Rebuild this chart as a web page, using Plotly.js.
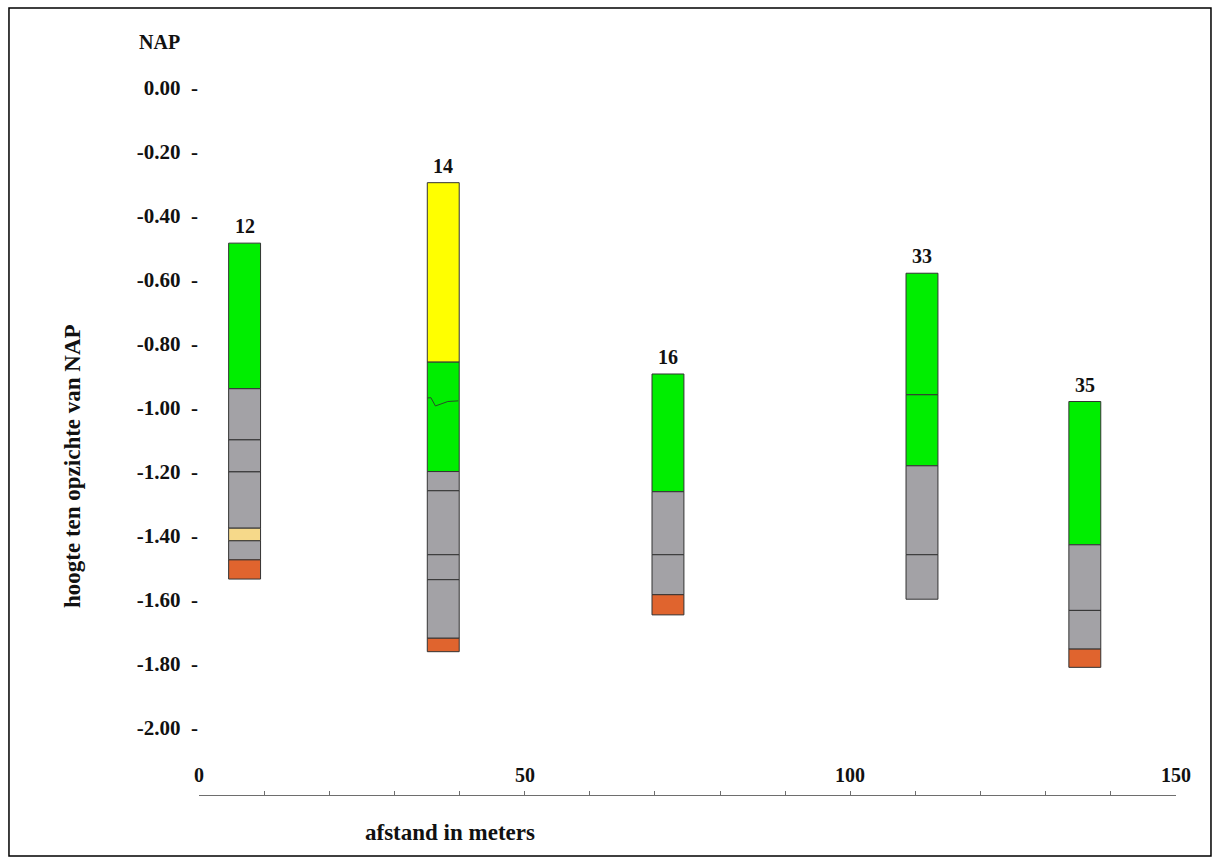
<!DOCTYPE html>
<html>
<head>
<meta charset="utf-8">
<script src="https://cdn.plot.ly/plotly-3.0.1.min.js"></script>
<style>
  html, body { margin: 0; padding: 0; background: #fff; }
  #chart { width: 1213px; height: 859px; }
</style>
</head>
<body>
<div id="chart"></div>
<script>
// ---- data ----
const colX = [7, 37.5, 72, 111, 136];               // afstand in meters
const colNames = ['12', '14', '16', '33', '35'];     // boring labels
// layer boundaries (hoogte t.o.v. NAP), top to bottom
const bounds12 = [-0.485, -0.94, -1.10, -1.20, -1.376, -1.415, -1.475, -1.535];
const bounds14 = [-0.296, -0.857, -1.199, -1.259, -1.459, -1.537, -1.72, -1.762];
const bounds16 = [-0.894, -1.262, -1.459, -1.584, -1.647];
const bounds33 = [-0.579, -0.959, -1.181, -1.459, -1.598];
const bounds35 = [-0.98, -1.428, -1.633, -1.754, -1.811];
// layer types, top to bottom
const layers12 = ['green', 'gray', 'gray', 'gray', 'lightorange', 'gray', 'orange'];
const layers14 = ['yellow', 'green', 'gray', 'gray', 'gray', 'gray', 'orange'];
const layers16 = ['green', 'gray', 'gray', 'orange'];
const layers33 = ['green', 'green', 'gray', 'gray'];
const layers35 = ['green', 'gray', 'gray', 'orange'];
// small irregular line inside boring 14
const wavyX = [35.1, 35.6, 36.3, 38.2, 39.8];
const wavyY = [-0.969, -0.968, -0.994, -0.980, -0.978];
// axis ticks
const yTickVals = [0, -0.2, -0.4, -0.6, -0.8, -1.0, -1.2, -1.4, -1.6, -1.8, -2.0];
const yTickLabels = ['0.00', '-0.20', '-0.40', '-0.60', '-0.80', '-1.00', '-1.20', '-1.40', '-1.60', '-1.80', '-2.00'];
const xTickVals = [0, 50, 100, 150];
const xTickLabels = ['0', '50', '100', '150'];

// ---- styles ----
const layerColors = {
  green: '#00ee00',
  gray: '#a3a2a6',
  yellow: '#ffff00',
  lightorange: '#f6d98a',
  orange: '#e0642e'
};
const typeOrder = ['yellow', 'green', 'gray', 'lightorange', 'orange'];
const allBounds = [bounds12, bounds14, bounds16, bounds33, bounds35];
const allLayers = [layers12, layers14, layers16, layers33, layers35];
const colWidth = 4.9;
const serif = 'Liberation Serif, Times New Roman, serif';

const traces = [];
typeOrder.forEach(function (t) {
  const xs = [], bases = [], hs = [];
  allLayers.forEach(function (lays, ci) {
    const b = allBounds[ci];
    lays.forEach(function (lt, li) {
      if (lt === t) {
        xs.push(colX[ci]);
        bases.push(b[li + 1]);
        hs.push(b[li] - b[li + 1]);
      }
    });
  });
  traces.push({
    type: 'bar', x: xs, y: hs, base: bases, width: colWidth,
    marker: { color: layerColors[t], line: { color: '#333333', width: 1 } },
    name: t, hoverinfo: 'skip', showlegend: false
  });
});
traces.push({
  type: 'scatter', mode: 'lines', x: wavyX, y: wavyY,
  line: { color: '#2a4a2a', width: 1 }, hoverinfo: 'skip', showlegend: false
});

const annotations = [];
colX.forEach(function (x, i) {
  annotations.push({
    x: x, y: allBounds[i][0], xref: 'x', yref: 'y', text: colNames[i],
    showarrow: false, xanchor: 'center', yanchor: 'bottom', yshift: 4,
    font: { family: serif, size: 20, color: '#111', weight: 'bold' }
  });
});
xTickVals.forEach(function (v, i) {
  annotations.push({
    x: v, y: 0.026, xref: 'x', yref: 'paper', text: xTickLabels[i],
    showarrow: false, xanchor: 'center', yanchor: 'middle',
    font: { family: serif, size: 20, color: '#111', weight: 'bold' }
  });
});
annotations.push({
  x: -0.0635, y: 0.9767, xref: 'paper', yref: 'paper', text: 'NAP',
  showarrow: false, xanchor: 'left', yanchor: 'middle',
  font: { family: serif, size: 20, color: '#111', weight: 'bold' }
});
annotations.push({
  x: -0.13, y: 0.4267, xref: 'paper', yref: 'paper', text: 'hoogte ten opzichte van NAP',
  showarrow: false, xanchor: 'center', yanchor: 'middle', textangle: -90,
  font: { family: serif, size: 23, color: '#111', weight: 'bold' }
});
annotations.push({
  x: 0.2569, y: -0.048, xref: 'paper', yref: 'paper', text: 'afstand in meters',
  showarrow: false, xanchor: 'center', yanchor: 'middle',
  font: { family: serif, size: 23, color: '#111', weight: 'bold' }
});

const layout = {
  width: 1213, height: 859,
  margin: { l: 199, r: 37, t: 24, b: 64, pad: 0 },
  paper_bgcolor: '#ffffff', plot_bgcolor: '#ffffff',
  barmode: 'overlay',
  showlegend: false,
  xaxis: {
    range: [0, 150], showgrid: false, zeroline: false,
    showline: true, linecolor: '#6e6e6e', linewidth: 1,
    ticks: 'inside', ticklen: 4, tickcolor: '#6e6e6e', dtick: 10, tick0: 0,
    showticklabels: false, fixedrange: true
  },
  yaxis: {
    range: [-2.21, 0.2], showgrid: false, zeroline: false, showline: false,
    ticks: '', tickvals: yTickVals,
    ticktext: yTickLabels.map(function (s) { return s + '\u00a0\u00a0-'; }),
    tickfont: { family: serif, size: 21, color: '#111', weight: 'bold' },
    fixedrange: true
  },
  annotations: annotations,
  shapes: [{
    type: 'rect', xref: 'paper', yref: 'paper',
    x0: -0.1945, x1: 1.0358, y0: -0.0791, y1: 1.0208,
    line: { color: '#000000', width: 1.5 }, fillcolor: 'rgba(0,0,0,0)', layer: 'below'
  }]
};

Plotly.newPlot('chart', traces, layout, { displayModeBar: false, staticPlot: true });
</script>
</body>
</html>
